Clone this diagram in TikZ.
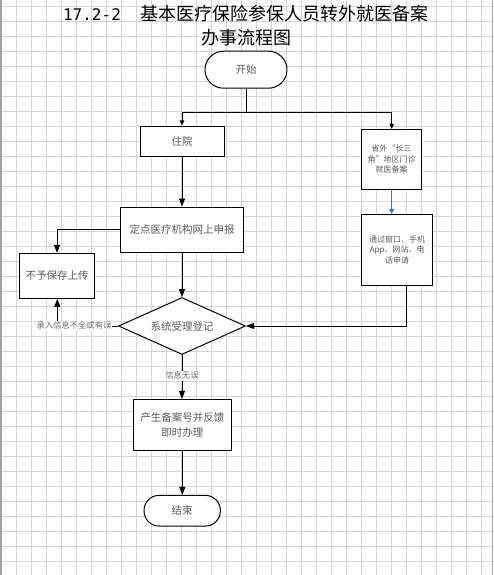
\documentclass[tikz,border=0pt]{standalone}
\usepackage{fontspec}
\setmainfont{Noto Sans CJK SC}
\newfontfamily\digitfont{DejaVu Sans Mono}
\usetikzlibrary{arrows.meta,shapes.geometric,calc}
\definecolor{gridc}{RGB}{212,212,212}
\definecolor{edgec}{RGB}{160,164,170}
\definecolor{txt}{RGB}{90,90,90}
\definecolor{lbl}{RGB}{105,105,105}
\definecolor{bluec}{RGB}{68,114,196}
\begin{document}
\begin{tikzpicture}[x=1pt,y=-1pt,
  box/.style={draw=black,line width=1pt,fill=white,text=txt,font=\fontsize{10.5}{15}\selectfont,align=center,inner sep=0pt},
  smallbox/.style={box,font=\fontsize{8}{10.5}\selectfont},
  term/.style={box,rounded corners=#1},
  decision/.style={box,diamond,aspect=2.2},
  con/.style={line width=1pt,draw=black},
  arr/.style={con,-{Triangle[length=8pt,width=6pt]}},
  arrs/.style={con,-{Triangle[length=5pt,width=4.5pt]}},
  arrblue/.style={line width=1pt,draw=bluec,-{Triangle[length=5pt,width=5pt]}},
  lab/.style={fill=white,text=lbl,font=\fontsize{8.3}{10}\selectfont,inner sep=1pt},
  title/.style={font=\fontsize{18}{22}\selectfont,text=black,inner sep=0pt}
]
\useasboundingbox (0,0) rectangle (493,575);
\fill[white] (0,0) rectangle (493,575);
% grid
\foreach \k in {1,...,32} {\draw[gridc,line width=0.9pt] ({1.7+15*\k},0) -- ({1.7+15*\k},575);}
\foreach \k in {0,...,37} {\draw[gridc,line width=0.9pt] (0,{6.7+15*\k}) -- (493,{6.7+15*\k});}
\fill[edgec] (0,0) rectangle (2,575);
\fill[edgec] (491.5,0) rectangle (493,575);

% title
\node[title] (t1) at (246,14) {{\digitfont\fontsize{16}{22}\selectfont 17.2-2}\hspace{20pt}基本医疗保险参保人员转外就医备案};
\node[title] (t2) at (246.5,37.5) {办事流程图};

% nodes
\node[term=18.5pt,minimum width=82pt,minimum height=37pt] (start) at (246,69.7) {开始};
\node[box,minimum width=84pt,minimum height=30pt] (zy) at (182,141) {住院};
\node[box,minimum width=122.6pt,minimum height=45pt] (dd) at (182,229.5) {定点医疗机构网上申报};
\node[smallbox,minimum width=60pt,minimum height=60pt] (r1) at (391.7,159.3) {省外“长三\\角”地区门诊\\就医备案};
\node[smallbox,minimum width=71pt,minimum height=71pt] (r2) at (397.2,249.8) {通过窗口、手机\\App、网站、电\\话申请};
\node[decision,minimum width=127pt,minimum height=57pt] (dia) at (182,326) {系统受理登记};
\node[box,minimum width=75.4pt,minimum height=45pt] (bb) at (57,275.8) {不予保存上传};
\node[box,minimum width=98pt,minimum height=50.7pt] (cs) at (182.3,424.7) {产生备案号并反馈\\即时办理};
\node[term=15pt,minimum width=76.3pt,minimum height=30.7pt] (end) at (182.2,510.7) {结束};

% connectors
\coordinate (j) at (246,112.3);
\draw[con] (start.south) -- (j);
\draw[arrs] (j) -| (zy.north);
\draw[arrs] (j) -| (r1.north);
\draw[arr] (zy.south) -- (zy.south |- dd.north);
\draw[arr] (dd.south) -- (dia.north);
\draw[arr] (dd.west) -| (bb.north);
\draw[arrblue] (r1.south) -- (r1.south |- r2.north);
\coordinate (c1) at (406.7,326);
\draw[arr] (r2.south -| c1) -- (c1) -- (dia.east);
\coordinate (c2) at (57.3,326);
\draw[arr] (dia.west) -- (c2) -- (c2 |- bb.south);
\draw[arr] (dia.south) -- (dia.south |- cs.north);
\draw[arr] (cs.south) -- (cs.south |- end.north);

% labels
\node[lab] (l1) at (74,325.7) {录入信息不全或有误};
\node[lab] (l2) at (182,375.7) {信息无误};
\end{tikzpicture}
\end{document}
